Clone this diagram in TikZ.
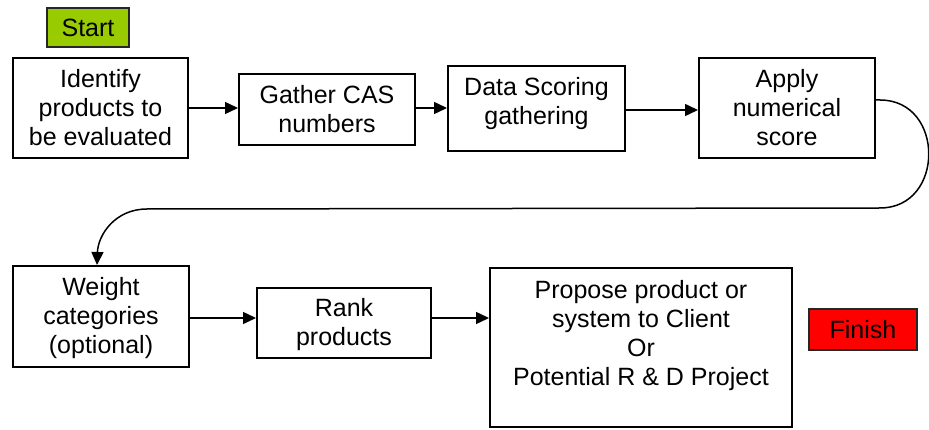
\documentclass[tikz,border=0pt]{standalone}
\usepackage{fontspec}
\setmainfont{Liberation Sans}
\usetikzlibrary{arrows.meta}
\definecolor{StartGreen}{HTML}{99CC00}
\definecolor{FinishRed}{HTML}{FF0000}

\begin{document}
\begin{tikzpicture}[x=1pt,y=-1pt]
   \tikzset{StepBox/.style={draw,line width=2pt,align=center,inner sep=0pt,font=\fontsize{25}{29}\selectfont},
            TagBox/.style={draw=black!85,line width=2pt,inner sep=0pt,font=\fontsize{25}{29}\selectfont},
            EdgeStyle/.style={line width=1.5pt,-{Triangle[length=13pt,width=12pt]}}}
   \useasboundingbox (0,0) rectangle (929,430);
   \node[TagBox,fill=StartGreen,minimum width=82pt,minimum height=39pt] (start) at (88,27.5) {Start};
   \node[TagBox,fill=FinishRed,minimum width=108pt,minimum height=41pt] (finish) at (863,329.5) {Finish};
   \node[StepBox,minimum width=175pt,minimum height=100pt] (ident) at (100.5,108) {Identify\\products to\\be evaluated};
   \node[StepBox,minimum width=176pt,minimum height=71pt] (gather) at (327,109.5) {Gather CAS\\numbers};
   \node[StepBox,minimum width=177pt,minimum height=85pt,text depth=15pt] (data) at (536.5,108.5) {Data Scoring\\gathering};
   \node[StepBox,minimum width=176pt,minimum height=100pt] (apply) at (787,108) {Apply\\numerical\\score};
   \node[StepBox,minimum width=176pt,minimum height=101pt,text depth=3pt] (weight) at (101,316.5) {Weight\\categories\\(optional)};
   \node[StepBox,minimum width=174pt,minimum height=70pt,text depth=2pt] (rank) at (344,323) {Rank\\products};
   \node[StepBox,minimum width=302pt,minimum height=159pt] (propose) at (641,347.5) {Propose product or\\system to Client\\Or\\Potential R \& D Project\\\mbox{}};
   \coordinate (bendR) at (880,208);
   \coordinate (bendL) at (147,209);
   \draw[EdgeStyle] (ident.east) -- (ident.east -| gather.west);
   \draw[EdgeStyle] (ident.east -| gather.east) -- (ident.east -| data.west);
   \draw[EdgeStyle] ([yshift=-1.5pt]data.east) -- ([yshift=-1.5pt]data.east -| apply.west);
   \draw[EdgeStyle] ([yshift=8pt]apply.east) -- ++(4,0) .. controls (945,100) and (945,208) .. (bendR) -- (bendL)
      .. controls (115,209) and (98,235) .. ([xshift=-4pt]weight.north);
   \draw[EdgeStyle] ([yshift=-1.5pt]weight.east) -- ([yshift=-1.5pt]weight.east -| rank.west);
   \draw[EdgeStyle] ([yshift=-1.5pt]weight.east -| rank.east) -- ([yshift=-1.5pt]weight.east -| propose.west);
\end{tikzpicture}
\end{document}
